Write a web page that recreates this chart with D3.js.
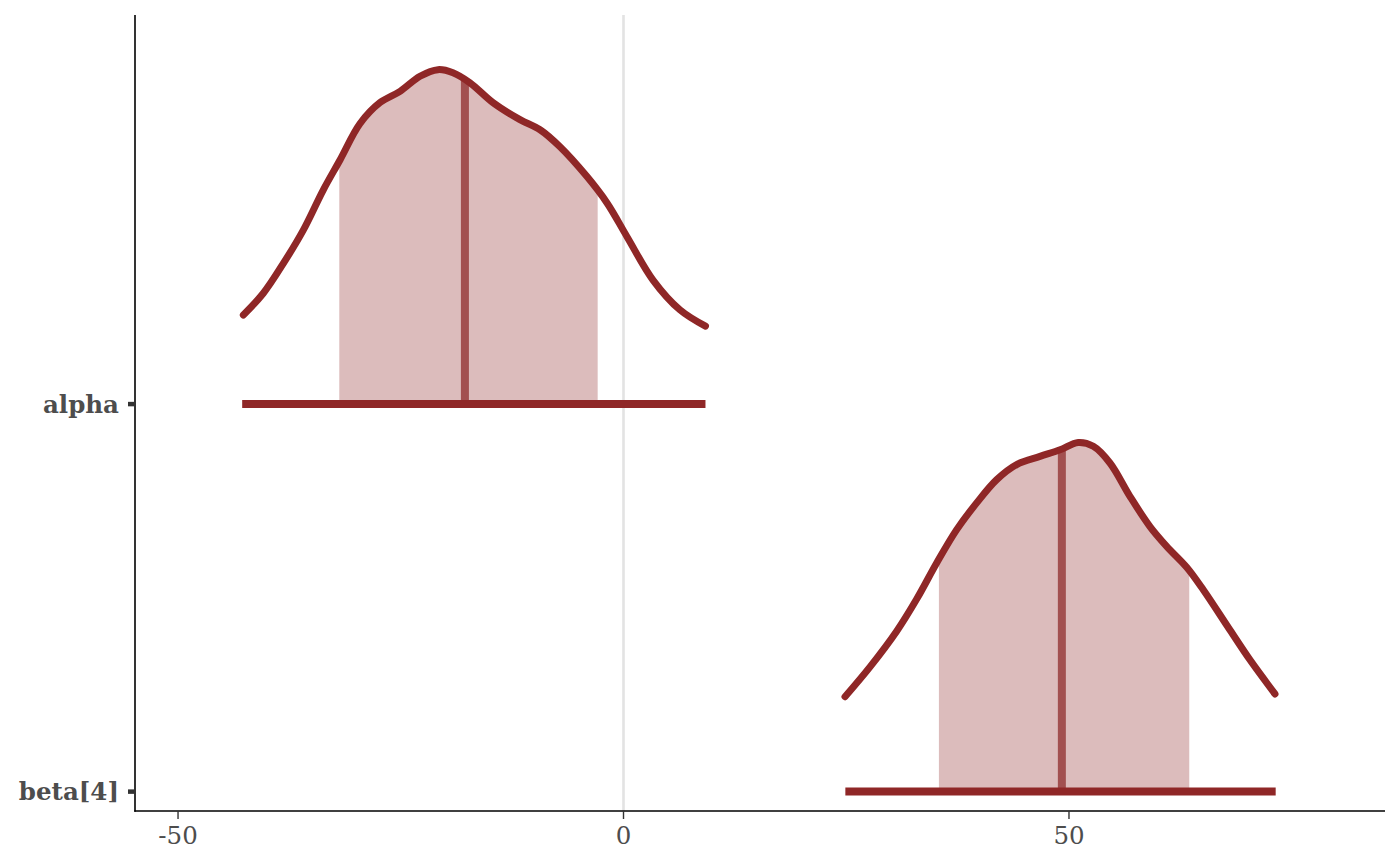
<!DOCTYPE html>
<html><head><meta charset="utf-8">
<script src="https://cdn.jsdelivr.net/npm/d3@7/dist/d3.min.js"></script>
<style>html,body{margin:0;padding:0;background:#fff;}</style>
</head><body>
<svg id="chart" width="1400" height="866"></svg>
<script>
// ---- data ----
const params = ["alpha", "beta[4]"];
const paramRow = [2, 1];
const xTicks = [-50, 0, 50];
const outerLo = [-42.8, 24.9];
const outerHi = [9.2, 73.2];
const innerLo = [-31.9, 35.4];
const innerHi = [-2.9, 63.5];
const medians = [-17.8, 49.2];
// density curves: x values and scaled heights (in row units)
const alphaX = [-42.67,-40.43,-38.18,-35.94,-33.69,-31.82,-29.57,-27.33,-25.08,-22.84,-20.82,-19.14,-17.23,-14.65,-11.62,-9.37,-7.13,-4.10,-1.85,0.39,3.31,6.34,9.2];
const alphaH = [0.230,0.286,0.363,0.449,0.553,0.630,0.724,0.778,0.807,0.846,0.863,0.855,0.829,0.778,0.734,0.708,0.664,0.587,0.519,0.432,0.320,0.243,0.201];
const betaX = [24.86,27.67,30.66,32.91,35.15,37.40,39.64,41.89,44.13,46.75,49.0,51.04,52.73,54.6,56.84,59.09,60.96,63.21,65.07,68.07,70.31,73.12];
const betaH = [0.245,0.322,0.414,0.497,0.590,0.676,0.745,0.805,0.844,0.865,0.882,0.901,0.891,0.848,0.762,0.684,0.633,0.579,0.521,0.417,0.340,0.252];
const densX = [alphaX, betaX];
const densH = [alphaH, betaH];

// ---- layout ----
const L = 135, R = 1385, T = 15, B = 811;
const svg = d3.select("#chart");
const x = d3.scaleLinear().domain([-54.83, 85.47]).range([L, R]);
const y = d3.scaleLinear().domain([0.95, 3.004]).range([B, T]);

const colLight = "#dcbcbc", colDark = "#8f2727", colMid = "#a25050";
const font = "'DejaVu Serif', serif";

// grid line at zero
svg.append("line").attr("x1", x(0)).attr("x2", x(0)).attr("y1", T).attr("y2", B)
  .attr("stroke", "#e3e3e3").attr("stroke-width", 2.6);

const defs = svg.append("defs");

params.forEach((p, i) => {
  const row = paramRow[i];
  const pts = densX[i].map((v, k) => ({x: v, h: densH[i][k]}));
  const cv = d3.curveCatmullRom.alpha(0.5);
  const area = d3.area().x(d => x(d.x)).y0(y(row)).y1(d => y(row + d.h)).curve(cv);
  const line = d3.line().x(d => x(d.x)).y(d => y(row + d.h)).curve(cv);

  const cid = "clip" + i;
  defs.append("clipPath").attr("id", cid).append("rect")
    .attr("x", x(innerLo[i])).attr("width", x(innerHi[i]) - x(innerLo[i]))
    .attr("y", T).attr("height", B - T);

  svg.append("path").datum(pts).attr("d", area).attr("fill", colLight)
    .attr("clip-path", `url(#${cid})`);

  // median segment height from linear interpolation of density
  const xs = densX[i], hs = densH[i], m = medians[i];
  let hm = hs[0];
  for (let k = 0; k < xs.length - 1; k++) {
    if (m >= xs[k] && m <= xs[k+1]) {
      const t = (m - xs[k]) / (xs[k+1] - xs[k]);
      hm = hs[k] + t * (hs[k+1] - hs[k]);
    }
  }
  svg.append("line").attr("x1", x(m)).attr("x2", x(m))
    .attr("y1", y(row)).attr("y2", y(row + hm))
    .attr("stroke", colMid).attr("stroke-width", 8);

  svg.append("path").datum(pts).attr("d", line).attr("fill", "none")
    .attr("stroke", colDark).attr("stroke-width", 7)
    .attr("stroke-linecap", "round").attr("stroke-linejoin", "round");

  svg.append("line").attr("x1", x(outerLo[i])).attr("x2", x(outerHi[i]))
    .attr("y1", y(row)).attr("y2", y(row))
    .attr("stroke", colDark).attr("stroke-width", 8);
});

// axes
svg.append("line").attr("x1", L).attr("x2", L).attr("y1", T).attr("y2", B + 0.7)
  .attr("stroke", "#000").attr("stroke-width", 1.6);
svg.append("line").attr("x1", L - 0.7).attr("x2", R).attr("y1", B).attr("y2", B)
  .attr("stroke", "#000").attr("stroke-width", 1.6);

const xAxis = svg.append("g");
xTicks.forEach(t => {
  xAxis.append("line").attr("x1", x(t)).attr("x2", x(t)).attr("y1", B).attr("y2", B + 8)
    .attr("stroke", "#333").attr("stroke-width", 1.4);
  xAxis.append("text").attr("x", x(t)).attr("y", B + 33).attr("text-anchor", "middle")
    .attr("font-family", font).attr("font-size", 24.5).attr("fill", "#4d4d4d")
    .text(t);
});

params.forEach((p, i) => {
  const yy = y(paramRow[i]);
  svg.append("line").attr("x1", L - 7).attr("x2", L).attr("y1", yy).attr("y2", yy)
    .attr("stroke", "#333").attr("stroke-width", 4.5);
  svg.append("text").attr("x", L - 16).attr("y", yy).attr("dy", "0.35em")
    .attr("text-anchor", "end").attr("font-family", font).attr("font-weight", "bold")
    .attr("font-size", 24.5).attr("fill", "#4d4d4d").text(p);
});
</script>
</body></html>
